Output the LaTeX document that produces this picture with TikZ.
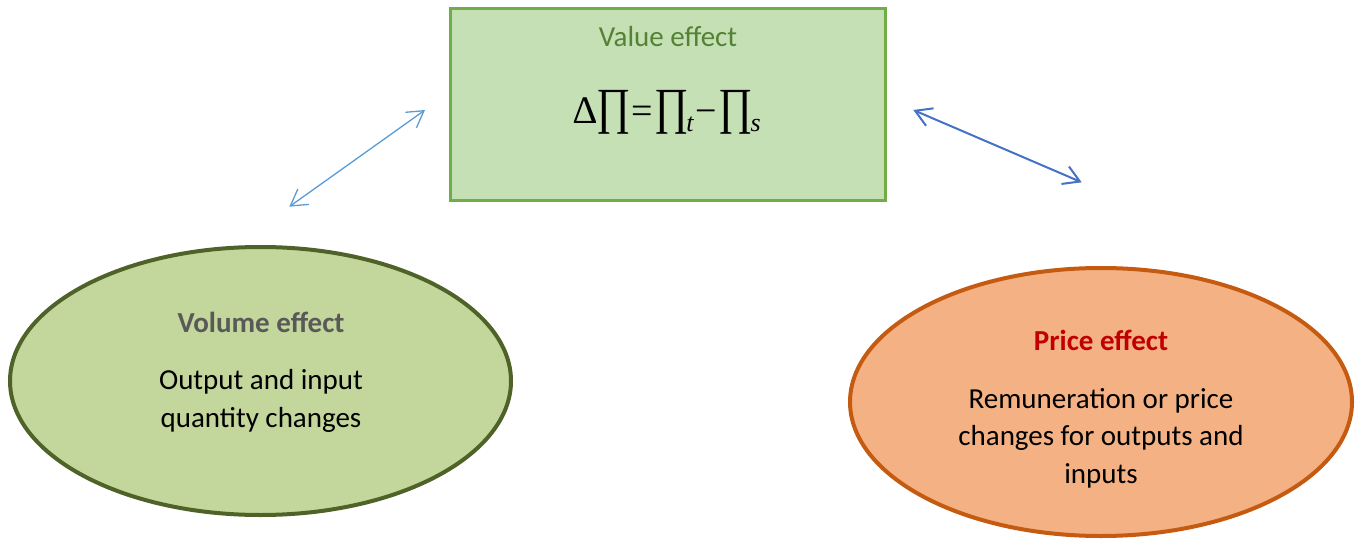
\documentclass[tikz,border=0pt]{standalone}
\usepackage{fontspec}
\usepackage{graphicx}
\setmainfont{Carlito}
\newfontfamily\eqfont{Liberation Serif}
\usetikzlibrary{arrows.meta,shapes.geometric}
\definecolor{boxfill}{HTML}{C5E0B4}
\definecolor{boxline}{HTML}{70AD47}
\definecolor{valtext}{HTML}{548235}
\definecolor{volfill}{HTML}{C3D69B}
\definecolor{volline}{HTML}{4F6228}
\definecolor{voltext}{HTML}{595959}
\definecolor{prfill}{HTML}{F4B183}
\definecolor{prline}{HTML}{C55A11}
\definecolor{prtext}{HTML}{C00000}
\definecolor{arrA}{HTML}{5B9BD5}
\definecolor{arrB}{HTML}{4472C4}
\newcommand{\bigprodsym}{\scalebox{0.95}[1.15]{\fontsize{44}{46}\selectfont ∏}}
\newcommand{\eqsub}[1]{\raisebox{-8pt}{\fontsize{26}{28}\selectfont\itshape #1}}
\tikzset{
  valbox/.style={draw=boxline, fill=boxfill, line width=3pt, rectangle, inner sep=0pt},
  oval/.style={ellipse, line width=4pt, inner sep=0pt},
  bodytext/.style={font=\fontsize{29}{37.5}\selectfont, align=center, text=black},
  titletext/.style={font=\fontsize{29}{35}\selectfont\bfseries},
  dblarrow/.style={{Straight Barb[length=16pt,width=19pt]}-{Straight Barb[length=16pt,width=19pt]}, line cap=round}
}
\begin{document}
\begin{tikzpicture}[x=1pt,y=-1pt]
\useasboundingbox (0,0) rectangle (1362,540);
% value box
\node[valbox, minimum width=435pt, minimum height=192pt] (value) at (668,104.5) {};
\node[font=\fontsize{29}{35}\selectfont, text=valtext] (vtitle) at (668,37) {Value effect};
\node[font=\eqfont\fontsize{32}{34}\selectfont, inner sep=0pt] (eq) at (667,112)
  {{\fontsize{39}{40}\selectfont ∆}\kern-1pt\bigprodsym\kern1pt{\fontsize{38}{40}\selectfont=}\kern1pt\bigprodsym\kern-2pt\eqsub{t}\kern2pt{\fontsize{38}{40}\selectfont−}\kern1pt\bigprodsym\kern-2pt\eqsub{s}};
% volume ellipse
\node[oval, draw=volline, fill=volfill, minimum width=501pt, minimum height=268pt] (vol) at (260.5,381) {};
\node[titletext, text=voltext] (voltitle) at (261,322) {Volume effect};
\node[bodytext] (volbody) at (261,401) {Output and input\\quantity changes};
% price ellipse
\node[oval, draw=prline, fill=prfill, minimum width=502pt, minimum height=268pt] (pr) at (1101,402) {};
\node[titletext, text=prtext] (prtitle) at (1101,340) {Price effect};
\node[bodytext] (prbody) at (1101,438) {Remuneration or price\\changes for outputs and\\inputs};
% arrows
\coordinate (a1) at (289.3,206.7);
\coordinate (a2) at (425,110);
\coordinate (b1) at (913.3,110);
\coordinate (b2) at (1081.7,182.3);
\draw[dblarrow, draw=arrA, line width=1.3pt] (a1) -- (a2);
\draw[dblarrow, draw=arrB, line width=2pt] (b1) -- (b2);
\end{tikzpicture}
\end{document}
